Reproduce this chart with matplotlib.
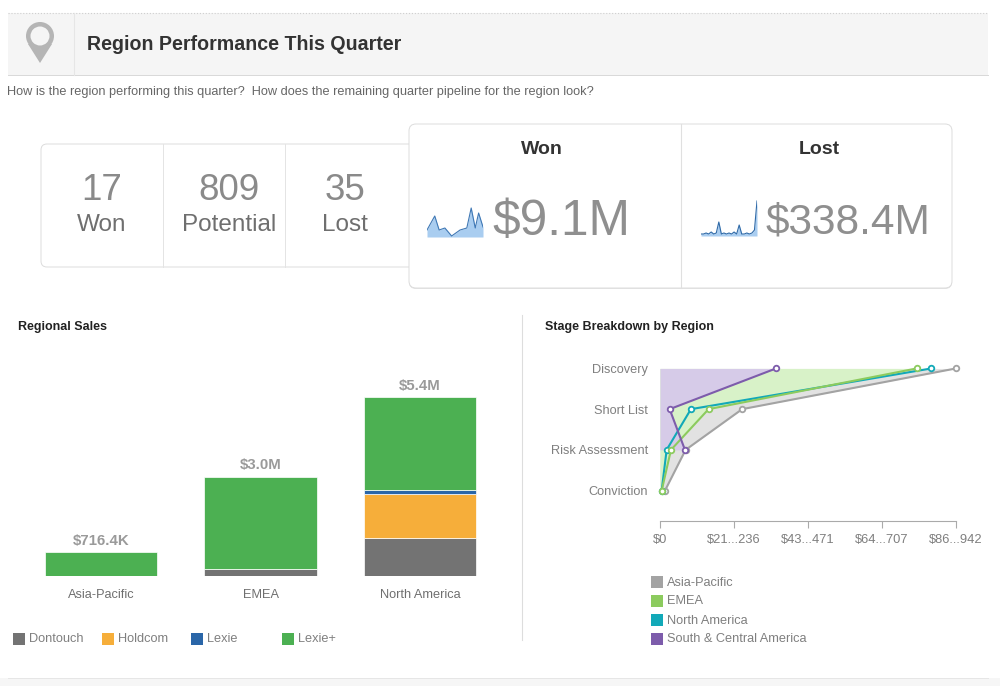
#!/usr/bin/env python

import matplotlib
matplotlib.use('Agg')
import matplotlib.pyplot as plt
from matplotlib.patches import Circle, FancyBboxPatch, Polygon, Rectangle

plt.rcParams['font.family'] = ['Liberation Sans', 'DejaVu Sans']

# bar chart, values in $M
regions = ['Asia-Pacific', 'EMEA', 'North America']
bar_totals = ['$716.4K', '$3.0M', '$5.4M']
dontouch = [0, 0.2, 1.15]
holdcom = [0, 0, 1.33]
lexie = [0, 0, 0.12]
lexie_plus = [0.7164, 2.8, 2.8]
bar_legend = ['Dontouch', 'Holdcom', 'Lexie', 'Lexie+']
bar_colors = ['#737373', '#f6ae3a', '#2a66a8', '#4cb052']

# stage chart
stages = ['Discovery', 'Short List', 'Risk Assessment', 'Conviction']
stage_ticks = [0, 21735, 43471, 65206, 86942]
stage_tick_labels = ['$0', '$21...236', '$43...471', '$64...707', '$86...942']
asia_pacific = [86942, 24130, 7520, 1465]
emea = [75400, 14260, 3220, 490]
north_america = [79700, 9080, 1950, 490]
south_central = [34090, 2830, 7330]
stage_legend = ['Asia-Pacific', 'EMEA', 'North America', 'South & Central America']
stage_colors = ['#a3a3a3', '#8ccb5e', '#12a9b8', '#7d5cab']

# sparklines
won_spark = [7, 21, 7, 9, 1, 7, 9, 29, 9, 24, 10]
won_spark_x = [0, 23, 36, 53, 73, 98, 118, 131, 143, 153, 166]
lost_spark = [2, 2, 3, 2, 4, 2, 3, 14, 2, 3, 2, 3, 2, 4, 2, 11, 2, 2, 3, 2, 3, 6, 35]
kpi_values = ['17', '809', '35']
kpi_labels = ['Won', 'Potential', 'Lost']

TEXT = '#7f7f7f'
W, H = 1000, 686

fig = plt.figure(figsize=(W/100, H/100), dpi=100)
bg = fig.add_axes([0, 0, 1, 1])
bg.set_xlim(0, W)
bg.set_ylim(H, 0)
bg.axis('off')


def px_axes(x0, y0, x1, y1):
    # axes placed by pixel box, y measured from the top
    ax = fig.add_axes([x0/W, 1 - y1/H, (x1-x0)/W, (y1-y0)/H])
    ax.patch.set_alpha(0)
    return ax


# header band
bg.add_patch(Rectangle((8, 13), 980, 62, fc='#f5f5f5', ec='none'))
bg.plot([8, 988], [13, 13], color='#cfcfcf', lw=0.8, ls=':')
bg.plot([8, 988], [75, 75], color='#d8d8d8', lw=0.7)
bg.plot([74, 74], [13, 75], color='#e6e6e6', lw=0.8)
bg.add_patch(Polygon([[28, 44], [52, 44], [40, 63]], fc='#b5b5b5', ec='none'))
bg.add_patch(Circle((40, 36), 14, fc='#b5b5b5', ec='none'))
bg.add_patch(Circle((40, 36), 9.5, fc='#f5f5f5', ec='none'))
bg.text(87, 44, 'Region Performance This Quarter', fontsize=14.1, fontweight='bold',
        color='#333333', va='center')
bg.text(7, 92, 'How is the region performing this quarter?  How does the remaining quarter pipeline for the region look?',
        fontsize=9.15, color='#666666', va='center')
bg.add_patch(Rectangle((0, 678), W, 8, fc='#f6f6f6', ec='none'))
bg.plot([8, 988], [678, 678], color='#e6e6e6', lw=0.7)

# left card
bg.add_patch(FancyBboxPatch((41, 144), 385, 123, boxstyle='round,pad=0,rounding_size=6',
                            fc='white', ec='#dcdcdc', lw=0.7))
for x in [163, 285]:
    bg.plot([x, x], [144, 267], color='#e4e4e4', lw=0.7)
for x, v, l in zip([102, 229, 345], kpi_values, kpi_labels):
    bg.text(x, 190, v, fontsize=26.5, color='#8a8a8a', ha='center', va='center')
    bg.text(x, 225, l, fontsize=17.5, color='#6f6f6f', ha='center', va='center')

# right card with soft shadow
bg.add_patch(FancyBboxPatch((409, 126), 543, 163, boxstyle='round,pad=0,rounding_size=7',
                            fc='#e4e4e4', ec='none'))
bg.add_patch(FancyBboxPatch((409, 124), 543, 164, boxstyle='round,pad=0,rounding_size=7',
                            fc='white', ec='#dcdcdc', lw=0.7))
bg.plot([681, 681], [124, 288], color='#e0e0e0', lw=0.8)
bg.text(542, 150, 'Won', fontsize=14, fontweight='bold', color='#333333', ha='center', va='center')
bg.text(819, 150, 'Lost', fontsize=14, fontweight='bold', color='#333333', ha='center', va='center')
bg.text(561, 222, '$9.1M', fontsize=35.7, color='#8f8f8f', ha='center', va='center')
bg.text(848, 222, '$338.4M', fontsize=30.5, color='#8f8f8f', ha='center', va='center')

# sparklines
sp1 = px_axes(427, 204, 483, 237)
sp1.fill_between(won_spark_x, won_spark, color='#a9cdf0', lw=0)
sp1.plot(won_spark_x, won_spark, color='#3f78b5', lw=0.8)
sp1.set_xlim(min(won_spark_x), max(won_spark_x))
sp1.set_ylim(0, 33)
sp1.axis('off')

sp2 = px_axes(701, 200, 757, 236)
sp2.fill_between(range(len(lost_spark)), lost_spark, color='#a9cdf0', lw=0)
sp2.plot(range(len(lost_spark)), lost_spark, color='#2f6aa8', lw=0.8)
sp2.set_xlim(0, len(lost_spark) - 1)
sp2.set_ylim(0, 36)
sp2.axis('off')

# section titles and divider
bg.text(18, 327, 'Regional Sales', fontsize=9, fontweight='bold', color='#222222', va='center')
bg.text(545, 327, 'Stage Breakdown by Region', fontsize=9, fontweight='bold', color='#222222', va='center')
bg.plot([522, 522], [315, 640], color='#dddddd', lw=0.8)

# stacked bars
ax = px_axes(21.25, 377, 499.75, 576)
pos = range(len(regions))
bottom = [0, 0, 0]
for vals, c in zip([dontouch, holdcom, lexie, lexie_plus], bar_colors):
    ax.bar(pos, vals, 0.708, bottom=bottom, color=c, edgecolor='white', linewidth=0.5)
    bottom = [b + v for b, v in zip(bottom, vals)]
for p, t, lab in zip(pos, bottom, bar_totals):
    ax.annotate(lab, (p, t), xytext=(0, 3), textcoords='offset points', ha='center',
                va='bottom', fontsize=10.8, fontweight='bold', color='#9a9a9a')
ax.set_xlim(-0.5, 2.5)
ax.set_ylim(0, 6)
ax.set_xticks(list(pos))
ax.set_xticklabels(regions, fontsize=9.2, color='#6f6f6f')
ax.tick_params(axis='x', length=0, pad=9)
ax.set_yticks([])
for s in ax.spines.values():
    s.set_visible(False)

for x, label, c in zip([13, 102, 191, 282], bar_legend, bar_colors):
    bg.add_patch(Rectangle((x, 633), 12, 12, fc=c, ec='none'))
    bg.text(x + 16, 639.5, label, fontsize=9.2, color=TEXT, va='center')

# stage chart
ax2 = px_axes(660, 355, 956, 520.5)
rows = list(range(len(stages)))
ax2.fill_betweenx(rows, 0, asia_pacific, color='#e2e2e2', lw=0)
ax2.fill_betweenx(rows, 0, emea, color='#d8f2c8', lw=0)
ax2.fill_betweenx(rows[:3], 0, south_central, color='#d6cbe8', lw=0)
series = [asia_pacific, north_america, emea, south_central]
colors = [stage_colors[0], stage_colors[2], stage_colors[1], stage_colors[3]]
for vals, c in zip(series, colors):
    ax2.plot(vals, rows[:len(vals)], color=c, lw=1.5, marker='o', ms=4, mfc='white',
             mew=1.3, clip_on=False)
ax2.set_xlim(0, 86942)
ax2.set_ylim(3.735, -0.33)
ax2.set_yticks(rows)
ax2.set_yticklabels(stages, fontsize=9.2, color=TEXT)
ax2.tick_params(axis='y', length=0, pad=8.5)
ax2.set_xticks(stage_ticks)
ax2.set_xticklabels(stage_tick_labels, fontsize=9.3, color=TEXT)
ax2.tick_params(axis='x', length=5, width=0.8, color='#aaaaaa', pad=5)
for name in ['top', 'left', 'right']:
    ax2.spines[name].set_visible(False)
ax2.spines['bottom'].set_color('#aaaaaa')
ax2.spines['bottom'].set_linewidth(0.8)

for y, label, c in zip([582, 601, 620, 639], stage_legend, stage_colors):
    bg.add_patch(Rectangle((651, y - 6), 12, 12, fc=c, ec='none'))
    bg.text(667, y + 0.5, label, fontsize=9.2, color=TEXT, va='center')

fig.savefig('out.png', dpi=100)
